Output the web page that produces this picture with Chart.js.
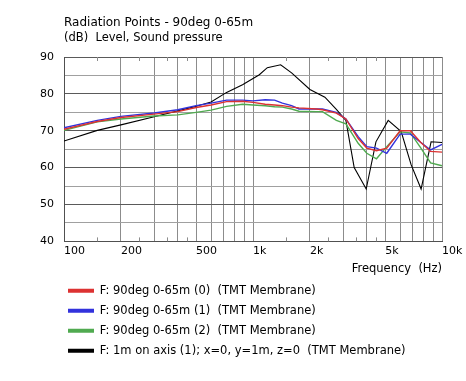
<!DOCTYPE html>
<html>
<head>
<meta charset="utf-8">
<script src="https://cdn.jsdelivr.net/npm/chart.js@4.4.1/dist/chart.umd.min.js"></script>
<style>
  html, body { margin: 0; padding: 0; background: #ffffff; }
  #wrap { width: 466px; height: 381px; }
</style>
</head>
<body>
<div id="wrap"><canvas id="c" width="466" height="381"></canvas></div>
<script>
// ---- data ----
const chartTitle = 'Radiation Points - 90deg 0-65m';
const chartSubtitle = '(dB)  Level, Sound pressure';
const xAxisTitle = 'Frequency  (Hz)';

const seriesNames = [
  'F: 90deg 0-65m (0)  (TMT Membrane)',
  'F: 90deg 0-65m (1)  (TMT Membrane)',
  'F: 90deg 0-65m (2)  (TMT Membrane)',
  'F: 1m on axis (1); x=0, y=1m, z=0  (TMT Membrane)'
];

// frequencies shared by the three 90deg series (Hz)
const freqs90 = [100, 150, 200, 300, 400, 500, 600, 725, 880, 1000, 1160, 1300, 1430, 1600, 1750, 2160, 2330, 2760, 3100, 3600, 4000, 4500, 5100, 6000, 6800, 7700, 8700, 10000];
const red0   = [70.4, 72.5, 73.6, 74.5, 75.2, 76.3, 77.0, 77.9, 78.0, 77.7, 77.2, 77.0, 76.8, 76.4, 76.2, 75.9, 75.7, 74.8, 73.2, 67.9, 65.3, 64.6, 65.3, 70.0, 70.0, 66.9, 64.4, 64.2];
const blue1  = [70.8, 72.8, 73.9, 74.8, 75.7, 76.8, 77.5, 78.3, 78.3, 78.1, 78.4, 78.3, 77.5, 76.8, 75.9, 75.9, 75.9, 75.0, 73.2, 68.4, 65.7, 65.3, 63.9, 69.1, 69.1, 66.9, 64.8, 66.3];
const green2 = [70.1, 72.4, 73.2, 74.0, 74.3, 75.0, 75.6, 76.6, 77.2, 77.0, 76.8, 76.5, 76.4, 75.9, 75.3, 75.2, 75.2, 72.8, 71.9, 66.6, 63.9, 62.4, 65.7, 69.7, 69.4, 65.4, 61.3, 60.5];

// on-axis reference (Hz / dB)
const freqsAxis = [100, 150, 200, 300, 480, 600, 725, 880, 1080, 1190, 1400, 1600, 2000, 2400, 2760, 3100, 3430, 3970, 4470, 5190, 6080, 6860, 7750, 8750, 10000];
const axis1m    = [67.2, 70.1, 71.6, 73.8, 76.4, 77.8, 80.4, 82.5, 85.2, 87.1, 87.9, 85.7, 81.2, 79.1, 75.8, 72.8, 60.0, 54.2, 67.0, 72.8, 69.8, 60.8, 54.2, 67.0, 66.8];

const seriesColors = ['#dc3232', '#3232dc', '#50aa50', '#000000'];

// axis ticks
const xGridFreqs = [100, 200, 300, 400, 500, 600, 700, 800, 900, 1000, 2000, 3000, 4000, 5000, 6000, 7000, 8000, 9000, 10000];
const xTickLabels = {100: '100', 200: '200', 500: '500', 1000: '1k', 2000: '2k', 5000: '5k', 10000: '10k'};
const xMinorTicks = [150, 250, 350, 450, 1500, 2500, 3500, 4500];
const yMin = 40, yMax = 90, yStep = 5;

// ---- chart ----
const FONT = 'DejaVu Sans';
const toXY = (xs, ys) => xs.map((x, i) => ({x: x, y: ys[i]}));

const minorTicksPlugin = {
  id: 'minorTicks',
  beforeDatasetsDraw(chart) {
    const {ctx, chartArea} = chart;
    const sx = chart.scales.x;
    ctx.save();
    ctx.strokeStyle = '#8c8c8c';
    ctx.lineWidth = 1;
    ctx.beginPath();
    xMinorTicks.forEach(f => {
      const px = Math.round(sx.getPixelForValue(f)) + 0.5;
      ctx.moveTo(px, chartArea.bottom);
      ctx.lineTo(px, chartArea.bottom - 4);
      ctx.moveTo(px, chartArea.top);
      ctx.lineTo(px, chartArea.top + 4);
    });
    ctx.stroke();
    ctx.restore();
  }
};

// place the legend block slightly left of the plot area, as in the reference
const legendOffsetPlugin = {
  id: 'legendOffset',
  afterLayout(chart) {
    if (chart.legend) { chart.legend.left = 59.5; }
  }
};

const mk = (label, xs, ys, color, width) => ({
  label: label,
  data: toXY(xs, ys),
  borderColor: color,
  backgroundColor: color,
  borderWidth: width,
  pointRadius: 0,
  pointHoverRadius: 0,
  tension: 0,
  fill: false
});

new Chart(document.getElementById('c'), {
  type: 'line',
  data: {
    datasets: [
      mk(seriesNames[0], freqs90, red0, seriesColors[0], 1.4),
      mk(seriesNames[1], freqs90, blue1, seriesColors[1], 1.4),
      mk(seriesNames[2], freqs90, green2, seriesColors[2], 1.4),
      mk(seriesNames[3], freqsAxis, axis1m, seriesColors[3], 1.1)
    ]
  },
  options: {
    responsive: false,
    animation: false,
    devicePixelRatio: 1,
    layout: { padding: { left: 0, right: 23, top: 0, bottom: 14.5 } },
    plugins: {
      tooltip: { enabled: false },
      title: {
        display: true, text: chartTitle, align: 'start', fullSize: false,
        color: '#000', font: { family: FONT, size: 12, weight: 'normal' },
        padding: { top: 15.3, bottom: 0 }
      },
      subtitle: {
        display: true, text: chartSubtitle, align: 'start', fullSize: false,
        color: '#000', font: { family: FONT, size: 11.5, weight: 'normal' },
        padding: { top: 1.1, bottom: 12.4 }
      },
      legend: {
        display: true, position: 'bottom', align: 'start',
        labels: {
          color: '#000',
          font: { family: FONT, size: 11.5 },
          boxWidth: 26, boxHeight: 4, padding: 8.5,
          generateLabels(chart) {
            return Chart.defaults.plugins.legend.labels.generateLabels(chart).map(it => {
              it.fillStyle = it.strokeStyle;
              it.lineWidth = 0;
              return it;
            });
          }
        }
      }
    },
    scales: {
      x: {
        type: 'logarithmic',
        min: 100, max: 10000,
        afterBuildTicks(scale) { scale.ticks = xGridFreqs.map(v => ({value: v})); },
        ticks: {
          autoSkip: false, maxRotation: 0, minRotation: 0, align: 'start', padding: 3.6,
          color: '#000', font: { family: FONT, size: 11 },
          callback: (v) => (xTickLabels[v] !== undefined ? xTickLabels[v] : '')
        },
        grid: { color: '#8c8c8c', drawTicks: false, lineWidth: 1 },
        border: { display: true, color: '#505050', width: 1 },
        title: {
          display: true, text: xAxisTitle, align: 'end', color: '#000',
          font: { family: FONT, size: 11.5 }, padding: { top: 0, bottom: 0.9 }
        }
      },
      y: {
        type: 'linear',
        min: yMin, max: yMax,
        afterFit(scale) { scale.width = 64; },
        ticks: {
          stepSize: yStep, padding: 10, color: '#000',
          font: { family: FONT, size: 11 },
          callback: (v) => (v % 10 === 0 ? String(v) : '')
        },
        grid: {
          drawTicks: false, lineWidth: 1,
          color: (c) => (c.tick && c.tick.value % 10 === 0 ? '#5a5a5a' : '#a0a0a0')
        },
        border: { display: true, color: '#505050', width: 1 }
      }
    }
  },
  plugins: [minorTicksPlugin, legendOffsetPlugin]
});
</script>
</body>
</html>
